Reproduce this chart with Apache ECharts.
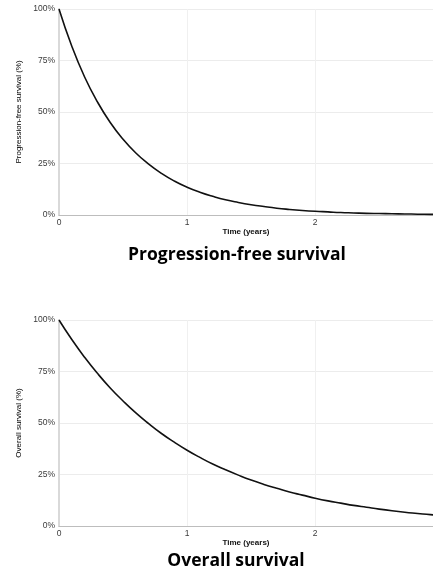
<!DOCTYPE html>
<html>
<head>
<meta charset="utf-8">
<script src="https://cdn.jsdelivr.net/npm/echarts@6/dist/echarts.min.js"></script>
<style>html,body{margin:0;padding:0;background:#fff;}#c{width:433px;height:573px;}</style>
</head>
<body>
<div id="c"></div>
<script>
// Time in years
var times = [0,0.1,0.2,0.3,0.4,0.5,0.6,0.7,0.8,0.9,1.0,1.1,1.2,1.3,1.4,1.5,1.6,1.7,1.8,1.9,2.0,2.1,2.2,2.3,2.4,2.5,2.6,2.7,2.8,2.9,3.0];
// Progression-free survival (%)
var pfsValues = [100,81.9,67.0,54.9,44.9,36.8,30.1,24.7,20.2,16.5,13.5,11.1,9.1,7.4,6.1,5.0,4.1,3.3,2.7,2.2,1.8,1.5,1.2,1.0,0.8,0.7,0.6,0.5,0.4,0.3,0.2];
// Overall survival (%)
var osValues = [100,90.5,81.9,74.1,67.0,60.7,54.9,49.7,44.9,40.7,36.8,33.3,30.1,27.3,24.7,22.3,20.2,18.3,16.5,15.0,13.5,12.2,11.1,10.0,9.1,8.2,7.4,6.7,6.1,5.5,5.0];
var yTicks = [0,25,50,75,100];
var xTicks = [0,1,2];
var titles = ['Progression-free survival','Overall survival'];
var yNames = ['Progression-free survival (%)','Overall survival (%)'];
var xName = 'Time (years)';

function pairs(xs, ys){ return xs.map(function(x,i){ return [x, ys[i]]; }); }

var chart = echarts.init(document.getElementById('c'), null, {renderer:'canvas'});
var font = 'Liberation Sans, Arial, sans-serif';
function xAxis(idx){
  return {
    type:'value', gridIndex:idx, min:0, max:2.92, interval:1,
    name:xName, nameLocation:'middle', nameGap:12,
    nameTextStyle:{fontFamily:font, fontSize:8, fontWeight:'bold', color:'#111'},
    axisLine:{show:true, onZero:false, lineStyle:{color:'#bdbdbd', width:1}},
    axisTick:{show:false},
    axisLabel:{fontFamily:font, fontSize:8.5, color:'#3a3a3a', margin:3, showMaxLabel:false,
      formatter:function(v){ return xTicks.indexOf(v) >= 0 ? String(v) : ''; }},
    splitLine:{show:true, lineStyle:{color:'#f0f0f0', width:1}}
  };
}
function yAxis(idx){
  return {
    type:'value', gridIndex:idx, min:0, max:100, interval:25,
    name:yNames[idx], nameLocation:'middle', nameGap:36, nameRotate:90,
    nameTextStyle:{fontFamily:'Liberation Sans Narrow, Liberation Sans, Arial, sans-serif', fontSize:8, color:'#000'},
    axisLine:{show:true, lineStyle:{color:'#d9d9d9', width:2}},
    axisTick:{show:false},
    axisLabel:{fontFamily:font, fontSize:8.5, color:'#3a3a3a', margin:4,
      formatter:function(v){ return yTicks.indexOf(v) >= 0 ? v + '%' : ''; }},
    splitLine:{show:true, lineStyle:{color:'#ececec', width:1}}
  };
}
var option = {
  backgroundColor:'#fff',
  animation:false,
  grid:[
    {left:59, top:9, width:374, height:206},
    {left:59, top:320, width:374, height:206}
  ],
  xAxis:[xAxis(0), xAxis(1)],
  yAxis:[yAxis(0), yAxis(1)],
  series:[
    {type:'line', xAxisIndex:0, yAxisIndex:0, data:pairs(times,pfsValues), smooth:true, showSymbol:false, clip:true,
      lineStyle:{color:'#111', width:1.6}},
    {type:'line', xAxisIndex:1, yAxisIndex:1, data:pairs(times,osValues), smooth:true, showSymbol:false, clip:true,
      lineStyle:{color:'#111', width:1.6}}
  ],
  graphic:[
    {type:'text', x:237, y:255, style:{text:titles[0], textAlign:'center', textVerticalAlign:'middle',
      font:'bold 17.5px "Open Sans", sans-serif', fill:'#000'}},
    {type:'text', x:236, y:561, style:{text:titles[1], textAlign:'center', textVerticalAlign:'middle',
      font:'bold 17.5px "Open Sans", sans-serif', fill:'#000'}}
  ]
};
chart.setOption(option);
</script>
</body>
</html>
